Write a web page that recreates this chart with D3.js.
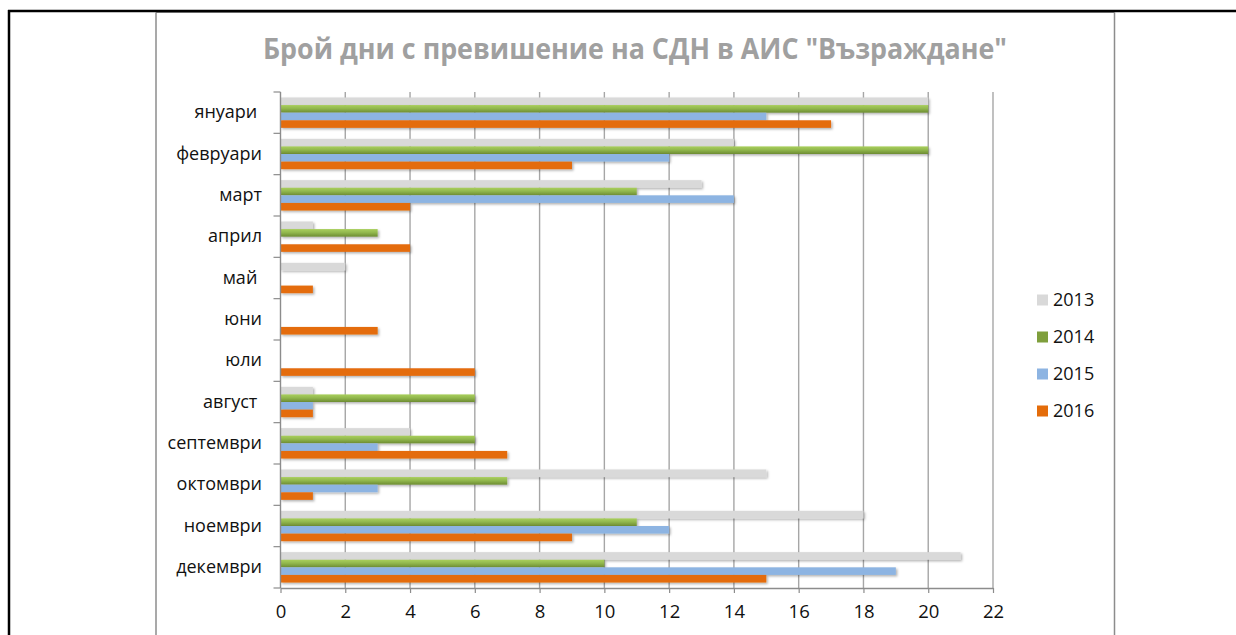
<!DOCTYPE html>
<html>
<head>
<meta charset="utf-8">
<script src="https://cdn.jsdelivr.net/npm/d3@7"></script>
<style>
  html, body { margin: 0; padding: 0; background: #fff; }
  svg { display: block; }
  text { font-family: "Open Sans", "Noto Sans", sans-serif; }
</style>
</head>
<body>
<svg id="chart" width="1236" height="635"></svg>
<script>
// ---- data ----
const titleText = 'Брой дни с превишение на СДН в АИС "Възраждане"';
const months = ["януари ", "февруари", "март", "април", "май ", "юни", "юли", "август ", "септември", "октомври", "ноември", "декември"];
const seriesNames = ["2013", "2014", "2015", "2016"];
const v2013 = [20, 14, 13, 1, 2, 0, 0, 1, 4, 15, 18, 21];
const v2014 = [20, 20, 11, 3, 0, 0, 0, 6, 6, 7, 11, 10];
const v2015 = [15, 12, 14, 0, 0, 0, 0, 1, 3, 3, 12, 19];
const v2016 = [17, 9, 4, 4, 1, 3, 6, 1, 7, 1, 9, 15];
const xTicks = [0, 2, 4, 6, 8, 10, 12, 14, 16, 18, 20, 22];
const seriesValues = [v2013, v2014, v2015, v2016];
const colors = ["#d9d9d9", "url(#gGreen)", "#8db4e2", "#e46c0a"];
const legendColors = ["#d9d9d9", "#7f9f3c", "#8db4e2", "#e46c0a"];

const svg = d3.select("#chart");
const defs = svg.append("defs");
const gg = defs.append("linearGradient").attr("id", "gGreen").attr("x1", 0).attr("y1", 0).attr("x2", 0).attr("y2", 1);
gg.append("stop").attr("offset", "0%").attr("stop-color", "#a9cf5c");
gg.append("stop").attr("offset", "45%").attr("stop-color", "#92b84e");
gg.append("stop").attr("offset", "100%").attr("stop-color", "#6d8c32");
const f = defs.append("filter").attr("id", "shadow").attr("x", "-5%").attr("y", "-50%").attr("width", "115%").attr("height", "250%");
f.append("feDropShadow").attr("dx", 1.5).attr("dy", 1.5).attr("stdDeviation", 1.2).attr("flood-color", "#000").attr("flood-opacity", 0.3);

// ---- frame ----
svg.append("line").attr("x1", 156).attr("x2", 156).attr("y1", 12.5).attr("y2", 635).attr("stroke", "#8c8c8c").attr("stroke-width", 1.5);
svg.append("line").attr("x1", 1114.5).attr("x2", 1114.5).attr("y1", 12.5).attr("y2", 635).attr("stroke", "#8c8c8c").attr("stroke-width", 1.5);
svg.append("line").attr("x1", 156).attr("x2", 1114.5).attr("y1", 12.5).attr("y2", 12.5).attr("stroke", "#8c8c8c").attr("stroke-width", 1);
svg.append("line").attr("x1", 8).attr("x2", 1236).attr("y1", 11).attr("y2", 11).attr("stroke", "#000").attr("stroke-width", 2.5);
svg.append("line").attr("x1", 9).attr("x2", 9).attr("y1", 10).attr("y2", 635).attr("stroke", "#000").attr("stroke-width", 2.5);

// ---- title ----
svg.append("text").attr("x", 635).attr("y", 58.5).attr("text-anchor", "middle")
  .attr("font-size", 29).attr("font-weight", 700).attr("fill", "#a0a0a0")
  .attr("textLength", 744).attr("lengthAdjust", "spacingAndGlyphs")
  .text(titleText);

// ---- scales ----
const x = d3.scaleLinear().domain([0, 22]).range([280.5, 993]);
const y0 = d3.scaleBand().domain(months).range([92, 588]).padding(0);
const y1 = d3.scaleBand().domain(seriesNames).range([0, y0.bandwidth()]).paddingInner(0).paddingOuter(0.72);

// ---- grid ----
svg.append("g").selectAll("line").data(xTicks.filter(d => d > 0)).join("line")
  .attr("x1", d => x(d)).attr("x2", d => x(d)).attr("y1", 92).attr("y2", 588)
  .attr("stroke", "#a6a6a6").attr("stroke-width", 1.4);

// ---- bars ----
const groups = svg.append("g").selectAll("g").data(months).join("g")
  .attr("transform", d => `translate(0,${y0(d)})`);
groups.selectAll("rect").data((m, i) => seriesNames.map((s, k) => ({ s, k, v: seriesValues[k][i] })))
  .join("rect")
  .attr("x", x(0))
  .attr("y", d => y1(d.s))
  .attr("width", d => x(d.v) - x(0))
  .attr("height", y1.bandwidth())
  .attr("fill", d => colors[d.k])
  .attr("filter", d => d.v > 0 ? "url(#shadow)" : null);

// ---- x axis ----
const xAxis = svg.append("g").attr("transform", "translate(0,588)")
  .call(d3.axisBottom(x).tickValues(xTicks).tickSize(5).tickPadding(12).tickSizeOuter(0));
xAxis.select(".domain").attr("stroke", "#8c8c8c").attr("stroke-width", 1.4);
xAxis.selectAll(".tick line").attr("stroke", "#8c8c8c").attr("stroke-width", 1.2);
xAxis.selectAll(".tick text").attr("font-size", 18.5).attr("fill", "#111").attr("font-family", '"Open Sans", sans-serif');

// ---- y axis ----
const yAxisG = svg.append("g");
yAxisG.append("line").attr("x1", x(0)).attr("x2", x(0)).attr("y1", 92).attr("y2", 588).attr("stroke", "#8c8c8c").attr("stroke-width", 1.4);
const bounds = months.map(m => y0(m)).concat([y0(months[months.length - 1]) + y0.bandwidth()]);
yAxisG.selectAll("line.tk").data(bounds).join("line").attr("class", "tk")
  .attr("x1", x(0) - 7).attr("x2", x(0)).attr("y1", d => d).attr("y2", d => d)
  .attr("stroke", "#8c8c8c").attr("stroke-width", 1.2);
yAxisG.selectAll("text").data(months).join("text")
  .attr("x", 262).attr("y", d => y0(d) + y0.bandwidth() / 2)
  .attr("dy", "0.32em").attr("text-anchor", "end")
  .attr("font-size", 18).attr("fill", "#111")
  .style("white-space", "pre")
  .text(d => d);

// ---- legend ----
const legendY = d3.scalePoint().domain(seriesNames).range([300, 411]);
const lg = svg.append("g").selectAll("g").data(seriesNames).join("g")
  .attr("transform", d => `translate(1037,${legendY(d)})`);
lg.append("rect").attr("x", 0).attr("y", -5.5).attr("width", 11).attr("height", 11)
  .attr("fill", (d, i) => legendColors[i]);
lg.append("text").attr("x", 16).attr("y", 0).attr("dy", "0.35em")
  .attr("font-size", 18).attr("fill", "#111").text(d => d);
</script>
</body>
</html>
